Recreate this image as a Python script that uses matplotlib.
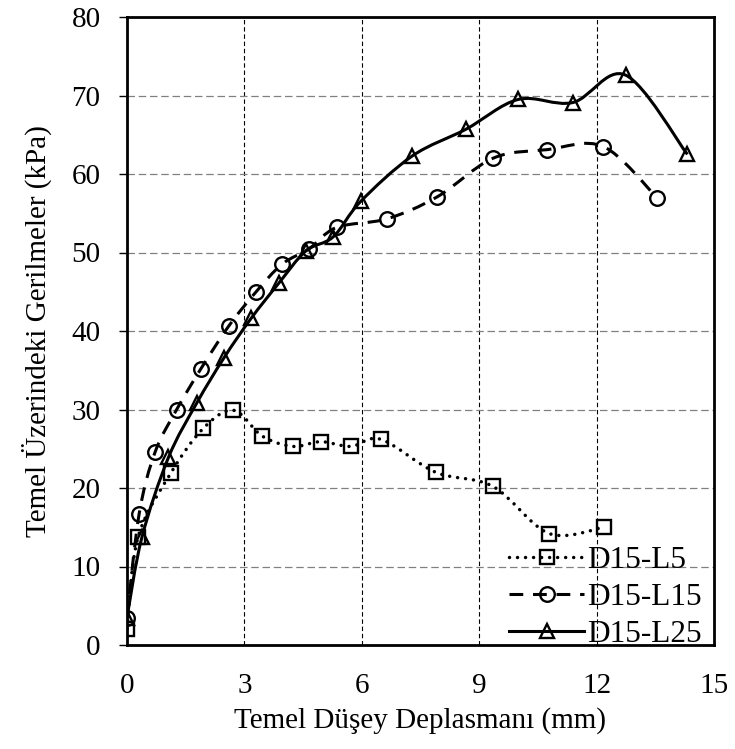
import numpy as np
import matplotlib
matplotlib.use("Agg")
import matplotlib.pyplot as plt
from matplotlib.path import Path
from matplotlib.patches import PathPatch
from matplotlib.lines import Line2D

plt.rcParams['font.family'] = ['Liberation Serif', 'DejaVu Serif']
plt.rcParams['font.size'] = 21

# readings from the reference chart
l5_x = [0.0, 0.28, 1.12, 1.95, 2.72, 3.46, 4.24, 4.95, 5.72, 6.49, 7.89, 9.35, 10.79, 12.19]
l5_y = [2.1, 13.7, 21.9, 27.6, 29.9, 26.6, 25.3, 25.9, 25.3, 26.2, 22.0, 20.2, 14.2, 15.0]

l15_x = [0.0, 0.31, 0.72, 1.27, 1.89, 2.61, 3.30, 3.96, 4.66, 5.36, 6.65, 7.93, 9.35, 10.73, 12.17, 13.54]
l15_y = [3.5, 16.7, 24.6, 30.0, 35.2, 40.7, 45.0, 48.5, 50.5, 53.2, 54.3, 57.1, 62.0, 63.1, 63.5, 57.0]

l25_x = [0.0, 0.38, 1.06, 1.78, 2.48, 3.17, 3.88, 4.57, 5.27, 5.97, 7.29, 8.66, 10.0, 11.39, 12.74, 14.32]
l25_y = [3.5, 13.7, 23.9, 30.8, 36.6, 41.6, 46.1, 50.2, 52.0, 56.5, 62.3, 65.7, 69.5, 69.1, 72.6, 62.5]

labels = ['D15-L5', 'D15-L15', 'D15-L25']
x_ticks = [0, 3, 6, 9, 12, 15]
y_ticks = [0, 10, 20, 30, 40, 50, 60, 70, 80]


def smooth_path(x, y):
    # excel-like smoothed line: catmull-rom segments as cubic beziers
    pts = np.column_stack([x, y]).astype(float)
    verts = [pts[0]]
    codes = [Path.MOVETO]
    n = len(pts)
    for i in range(n - 1):
        p0 = pts[i - 1] if i > 0 else pts[i]
        p1 = pts[i]
        p2 = pts[i + 1]
        p3 = pts[i + 2] if i + 2 < n else pts[i + 1]
        verts += [p1 + (p2 - p0) / 6.0, p2 - (p3 - p1) / 6.0, p2]
        codes += [Path.CURVE4] * 3
    return Path(verts, codes)


fig = plt.figure(figsize=(7.35, 7.49), dpi=100)
ax = fig.add_axes([127 / 735, 1 - 645 / 749, (714 - 127) / 735, (645 - 17) / 749])

styles = [
    dict(ls=(0, (0.01, 2.3)), lw=2.5, marker='s', cap='round'),
    dict(ls=(0, (4.5, 3.2)), lw=2.2, marker='o', cap='butt'),
    dict(ls='-', lw=2.2, marker='^', cap='butt'),
]
series = [(l5_x, l5_y), (l15_x, l15_y), (l25_x, l25_y)]

handles = []
for (xs, ys), st, lab in zip(series, styles, labels):
    patch = PathPatch(smooth_path(xs, ys), facecolor='none', edgecolor='black',
                      lw=st['lw'], linestyle=st['ls'], capstyle=st['cap'], zorder=3)
    ax.add_patch(patch)
    ax.plot(xs, ys, linestyle='none', marker=st['marker'], ms=10.5,
            mfc='none', mec='black', mew=1.7, zorder=4)
    handles.append(Line2D([], [], color='black', lw=st['lw'], linestyle=st['ls'],
                          dash_capstyle=st['cap'], marker=st['marker'], ms=10.5,
                          mfc='none', mec='black', mew=1.7))

ax.set_xlim(0, 15)
ax.set_ylim(0, 80)
ax.set_xticks(x_ticks)
ax.set_yticks(y_ticks)

for v in x_ticks[1:-1]:
    ax.axvline(v, color='black', lw=0.8, ls=(0, (4, 2.5)), zorder=1)
for v in y_ticks[1:-1]:
    ax.axhline(v, color='#808080', lw=0.9, ls=(0, (6, 3)), zorder=1)

for s in ax.spines.values():
    s.set_linewidth(2.0)
ax.tick_params(axis='x', length=0, pad=20)
ax.tick_params(axis='y', length=6, width=1.0, direction='out', pad=13)

ax.set_xlabel('Temel Düşey Deplasmanı (mm)', labelpad=6)
ax.set_ylabel('Temel Üzerindeki Gerilmeler (kPa)', labelpad=14)

ax.legend(handles, labels, loc='lower right', frameon=False, handlelength=2.4,
          handletextpad=0.1, labelspacing=0.25, borderaxespad=0.0,
          borderpad=0.0, fontsize=22.5,
          bbox_to_anchor=(1 - 12 / 587, -4 / 628))

fig.savefig('out.png', dpi=100)
